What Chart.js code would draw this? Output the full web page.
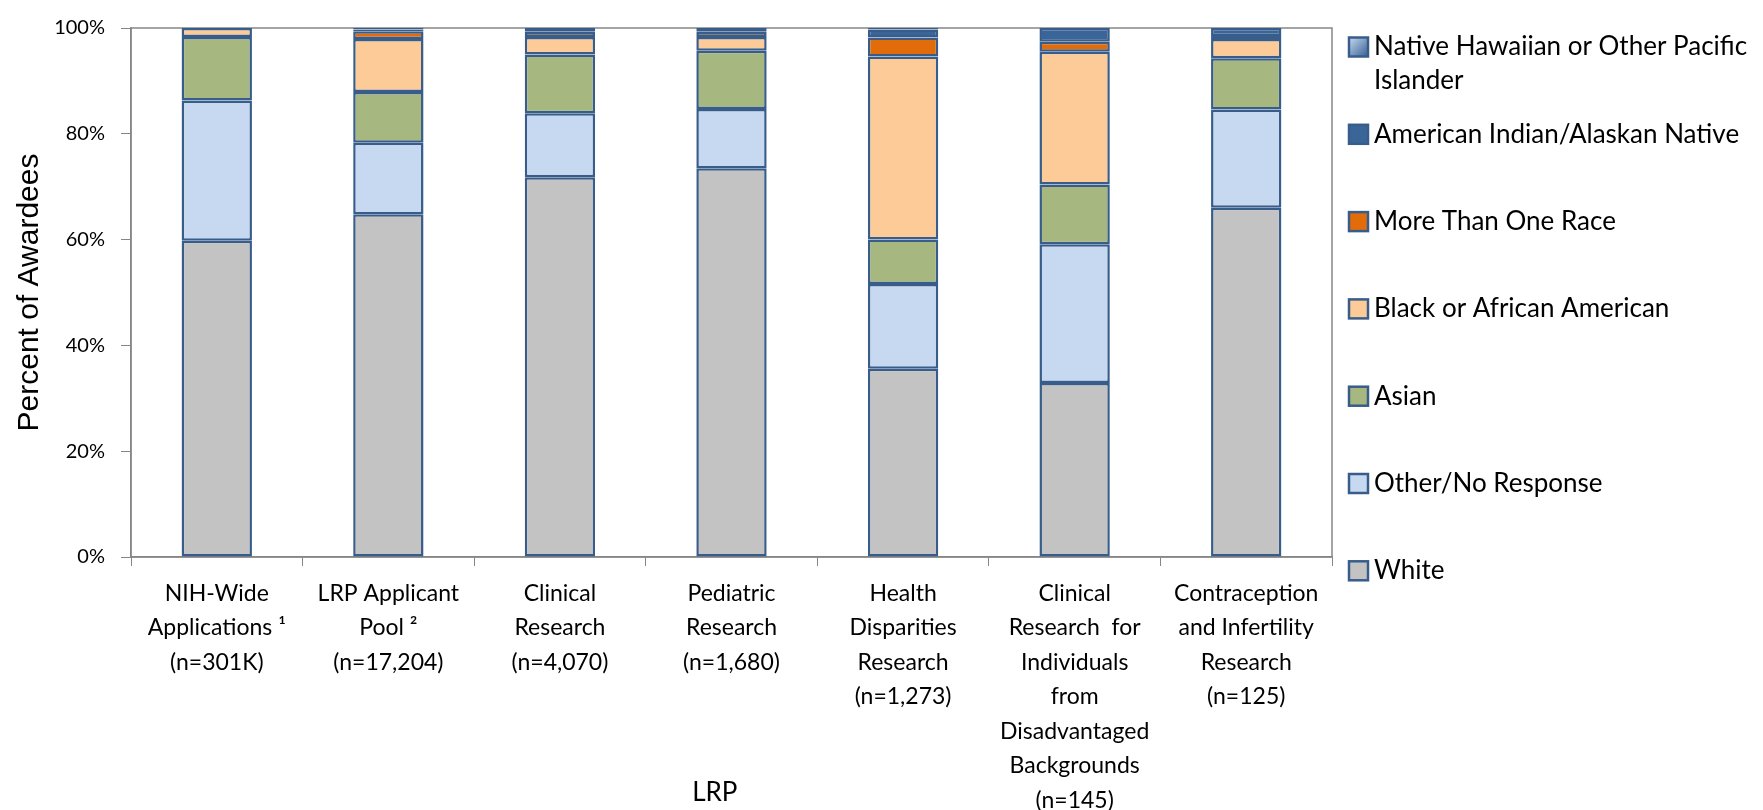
<!DOCTYPE html>
<html>
<head>
<meta charset="utf-8">
<script src="https://cdn.jsdelivr.net/npm/chart.js@4"></script>
<style>
  body { margin: 0; background: #fff; }
  #wrap { width: 1763px; height: 810px; position: relative; }
</style>
</head>
<body>
<div id="wrap"><canvas id="barChart"></canvas></div>
<script>
// categories (x axis, multi-line labels)
var categories = [
    ['NIH-Wide', 'Applications \u00b9', '(n=301K)'],
    ['LRP Applicant', 'Pool \u00b2', '(n=17,204)'],
    ['Clinical', 'Research', '(n=4,070)'],
    ['Pediatric', 'Research', '(n=1,680)'],
    ['Health', 'Disparities', 'Research', '(n=1,273)'],
    ['Clinical', 'Research  for', 'Individuals', 'from', 'Disadvantaged', 'Backgrounds', '(n=145)'],
    ['Contraception', 'and Infertility', 'Research', '(n=125)']
];

// percent of awardees
var white          = [59.8, 64.8, 71.8, 73.5, 35.6, 32.9, 66.0];
var otherNoResp    = [26.5, 13.5, 12.1, 11.2, 16.0, 26.2, 18.6];
var asian          = [12.0,  9.6, 11.1, 11.0,  8.4, 11.3,  9.7];
var black          = [ 1.7, 10.0,  3.3,  2.6, 34.6, 25.1,  3.6];
var moreThanOne    = [ 0.0,  1.5,  1.0,  1.0,  3.6,  1.9,  0.6];
var amIndian       = [ 0.0,  0.3,  0.3,  0.3,  1.5,  2.6,  1.5];
var nativeHawaiian = [ 0.0,  0.3,  0.4,  0.4,  0.3,  0.0,  0.0];

var yTicks = [0, 20, 40, 60, 80, 100];

var edge = '#385D8A';
var axisGrey = '#868686';

function series(label, data, color) {
    return {
        label: label,
        data: data,
        backgroundColor: color,
        borderColor: edge,
        borderWidth: 2.5,
        borderSkipped: false,
        barPercentage: 0.41,
        categoryPercentage: 1
    };
}

// box round the plot area
var frame = {
    id: 'frame',
    beforeDatasetsDraw: function(chart) {
        var a = chart.chartArea, c = chart.ctx;
        c.save();
        c.strokeStyle = axisGrey;
        c.lineWidth = 1.5;
        c.strokeRect(a.left, a.top, a.right - a.left, a.bottom - a.top);
        c.restore();
    }
};

// legend at the right, top entry first, spread over the height
var sideLegend = {
    id: 'sideLegend',
    afterDraw: function(chart) {
        var c = chart.ctx;
        var sets = chart.data.datasets.slice().reverse();
        var x = 1349, y0 = 47, step = 87.3, box = 19;
        c.save();
        c.font = '26px Lato';
        c.textBaseline = 'middle';
        sets.forEach(function(ds, i) {
            var y = y0 + i * step;
            var fill = ds.backgroundColor;
            if (ds.legendGradient) {
                var g = c.createLinearGradient(x, y - box / 2, x + box, y + box / 2);
                g.addColorStop(0, '#C6D9F1');
                g.addColorStop(1, '#376092');
                fill = g;
            }
            c.fillStyle = fill;
            c.fillRect(x, y - box / 2, box, box);
            c.strokeStyle = edge;
            c.lineWidth = 2.5;
            c.strokeRect(x, y - box / 2, box, box);
            c.fillStyle = '#000';
            var lines = ds.legendLines || [ds.label];
            lines.forEach(function(t, j) {
                c.fillText(t, x + 25, y + j * 34);
            });
        });
        c.restore();
    }
};

Chart.defaults.font.family = 'Lato';
Chart.defaults.color = '#000';

var nh = series('Native Hawaiian or Other Pacific Islander', nativeHawaiian, '#8EB4E3');
nh.legendLines = ['Native Hawaiian or Other Pacific', 'Islander'];
nh.legendGradient = true;

var ctx = document.getElementById('barChart');
var myChart = new Chart(ctx.getContext('2d'), {
    type: 'bar',
    data: {
        labels: categories,
        datasets: [
            series('White', white, '#C3C3C3'),
            series('Other/No Response', otherNoResp, '#C6D9F1'),
            series('Asian', asian, '#A6B77F'),
            series('Black or African American', black, '#FCCB98'),
            series('More Than One Race', moreThanOne, '#E36C0A'),
            series('American Indian/Alaskan Native', amIndian, '#3A6599'),
            nh
        ]
    },
    options: {
        responsive: true,
        maintainAspectRatio: false,
        animation: false,
        layout: { padding: { top: 22, right: 431, left: 0, bottom: 0 } },
        scales: {
            x: {
                stacked: true,
                grid: { display: true, drawOnChartArea: false, tickLength: 9, color: axisGrey, offset: true },
                border: { color: axisGrey, width: 1.5 },
                ticks: {
                    maxRotation: 0,
                    autoSkip: false,
                    padding: 10,
                    font: { size: 23, lineHeight: '34.5px' }
                },
                title: {
                    display: true,
                    text: 'LRP     ',
                    font: { size: 26 },
                    padding: { top: 0, bottom: 2 }
                },
                afterFit: function(scale) { scale.height = 253; }
            },
            y: {
                stacked: true,
                min: 0,
                max: 100,
                afterBuildTicks: function(scale) {
                    scale.ticks = yTicks.map(function(v) { return { value: v }; });
                },
                grid: { drawOnChartArea: false, tickLength: 10, color: axisGrey },
                border: { color: axisGrey, width: 1.5 },
                ticks: {
                    padding: 16,
                    font: { size: 20 },
                    callback: function(v) { return v + '%'; }
                },
                title: {
                    display: true,
                    text: 'Percent of Awardees',
                    font: { family: 'Liberation Sans', size: 30 },
                    padding: { top: 12, bottom: 0 }
                },
                afterFit: function(scale) { scale.width = 131; }
            }
        },
        plugins: {
            legend: { display: false },
            tooltip: { enabled: false }
        }
    },
    plugins: [frame, sideLegend]
});
</script>
</body>
</html>
